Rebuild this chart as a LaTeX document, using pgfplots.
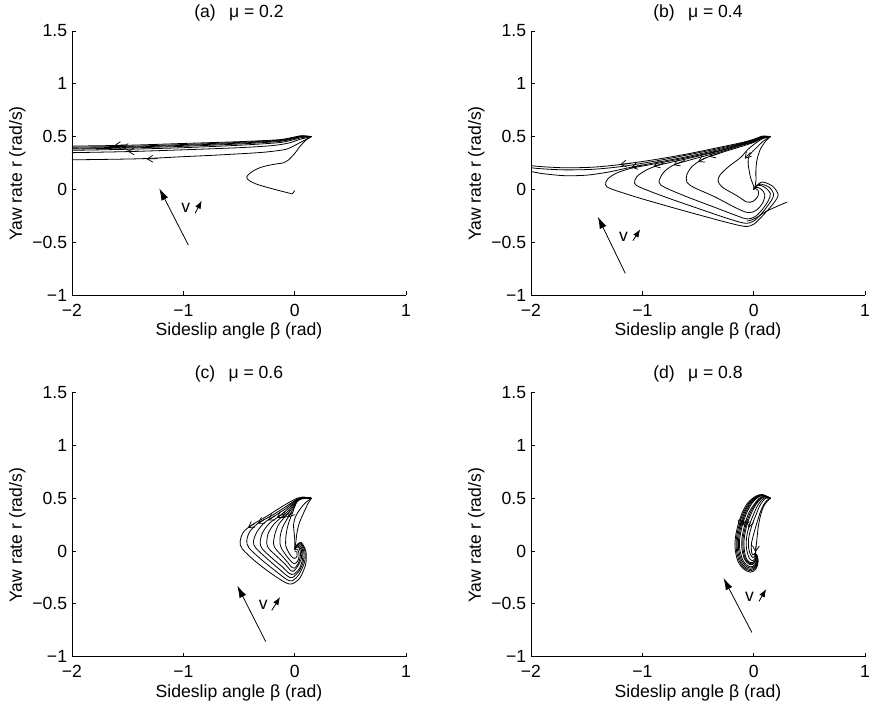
\documentclass[border=0pt]{standalone}
\usepackage{fontspec}
\setmainfont{Liberation Sans}
\usepackage{pgfplots}
\pgfplotsset{compat=1.18}
\usetikzlibrary{arrows.meta}
\pgfplotsset{
  every axis title shift=0pt,
  panel/.style={
    scale only axis, width=250.5pt, height=198pt,
    xmin=-2, xmax=1, ymin=-1, ymax=1.5,
    axis lines=left, axis line style={-, line width=0.6pt, black},
    tick align=inside, major tick length=2.7pt,
    tick style={line width=0.6pt, black},
    xtick={-2,-1,0,1}, xticklabels={−2,−1,0,1},
    ytick={-1,-0.5,0,0.5,1,1.5}, yticklabels={−1,−0.5,0,0.5,1,1.5},
    font=\fontsize{13.2}{15}\selectfont,
    xticklabel style={anchor=base, yshift=-15.8pt},
    yticklabel style={anchor=east, inner xsep=3.5pt},
    xlabel={Sideslip angle β (rad)},
    ylabel={Yaw rate r (rad/s)},
    xlabel style={at={(axis description cs:0.5,0)}, anchor=base, yshift=-30.5pt},
    ylabel style={at={(axis description cs:-0.164,0.46)}, anchor=center},
    title style={at={(axis description cs:0.5,1)}, anchor=base, yshift=10.3pt},
  },
  traj/.style={black, line width=0.6pt, smooth, tension=0.5, no markers},
  bigarrow/.style={black, line width=0.6pt, -{Latex[length=9pt,width=5.5pt]}, no markers},
  smallarrow/.style={black, line width=0.6pt, -{Latex[length=6pt,width=4.5pt]}, no markers},
  harrow/.style={black, line width=0.55pt, -{Straight Barb[length=4.2pt,width=5.2pt]}, no markers},
}
\begin{document}
\begin{tikzpicture}
% ---------------- (a) ----------------
\begin{axis}[panel, at={(54pt,309.75pt)}, anchor=south west, title={(a)\hspace{0.75em}μ = 0.2}]
\addplot[traj] coordinates {(0.15,0.5) (0.06,0.508) (-0.03,0.49) (-0.15,0.47) (-0.5,0.452) (-1,0.435) (-1.5,0.418) (-2,0.41)};
\addplot[traj] coordinates {(0.15,0.5) (0.06,0.505) (-0.03,0.485) (-0.15,0.465) (-0.5,0.445) (-1,0.425) (-1.5,0.408) (-2,0.40)};
\addplot[traj] coordinates {(0.15,0.5) (0.06,0.502) (-0.03,0.48) (-0.15,0.46) (-0.5,0.438) (-1,0.417) (-1.5,0.40) (-2,0.39)};
\addplot[traj] coordinates {(0.15,0.5) (0.06,0.498) (-0.03,0.475) (-0.15,0.453) (-0.5,0.43) (-1,0.408) (-1.5,0.392) (-2,0.382)};
\addplot[traj] coordinates {(0.15,0.5) (0.06,0.49) (-0.03,0.465) (-0.15,0.442) (-0.5,0.418) (-1,0.395) (-1.5,0.38) (-2,0.37)};
\addplot[traj] coordinates {(0.15,0.5) (0.05,0.475) (-0.05,0.44) (-0.2,0.415) (-0.5,0.395) (-1,0.375) (-1.5,0.358) (-2,0.348)};
\addplot[traj] coordinates {(0.15,0.5) (0.06,0.45) (-0.03,0.4) (-0.1,0.375) (-0.3,0.35) (-0.7,0.325) (-1.0,0.31) (-1.4,0.29) (-2,0.28)};
\addplot[traj] coordinates {(0.15,0.5) (0.1,0.465) (0.05,0.41) (0.0,0.34) (-0.06,0.275) (-0.1,0.252) (-0.2,0.235) (-0.3,0.21) (-0.38,0.17) (-0.43,0.12) (-0.41,0.085) (-0.33,0.045) (-0.18,0.0) (-0.05,-0.035) (-0.02,-0.04) (0.0,-0.01)};
\addplot[harrow] coordinates {(-1.52,0.422) (-1.62,0.416)};
\addplot[harrow] coordinates {(-1.45,0.404) (-1.55,0.398)};
\addplot[harrow] coordinates {(-1.40,0.363) (-1.50,0.359)};
\addplot[harrow] coordinates {(-1.23,0.292) (-1.33,0.288)};
\addplot[bigarrow] coordinates {(-0.955,-0.527) (-1.216,0.01)};
\addplot[smallarrow] coordinates {(-0.894,-0.226) (-0.835,-0.107)};
\node[anchor=center, inner sep=0pt] at (axis cs:-0.978,-0.17) {v};
\end{axis}
% ---------------- (b) ----------------
\begin{axis}[panel, at={(398.25pt,309.75pt)}, anchor=south west, title={(b)\hspace{0.75em}μ = 0.4}]
\addplot[traj] coordinates {(0.15,0.50) (0.08,0.505) (0.0,0.475) (-0.1,0.445) (-0.3,0.40) (-0.6,0.335) (-0.9,0.28) (-1.2,0.235) (-1.45,0.21) (-1.7,0.205) (-1.9,0.215) (-2,0.225)};
\addplot[traj] coordinates {(0.15,0.50) (0.08,0.50) (0.0,0.47) (-0.1,0.44) (-0.3,0.39) (-0.6,0.325) (-0.9,0.265) (-1.2,0.215) (-1.45,0.19) (-1.7,0.185) (-1.9,0.195) (-2,0.205)};
\addplot[traj] coordinates {(0.15,0.50) (0.08,0.497) (0.0,0.465) (-0.1,0.435) (-0.3,0.38) (-0.6,0.31) (-0.9,0.25) (-1.1,0.21) (-1.3,0.165) (-1.5,0.135) (-1.7,0.13) (-1.9,0.15) (-2,0.17)};
\addplot[traj] coordinates {(0.15,0.50) (0.08,0.495) (0.0,0.46) (-0.1,0.43) (-0.3,0.37) (-0.6,0.30) (-0.9,0.24) (-1.1,0.20) (-1.23,0.155) (-1.31,0.10) (-1.33,0.045) (-1.28,0.005) (-1.0,-0.09) (-0.6,-0.21) (-0.25,-0.31) (-0.08,-0.35) (0.0,-0.33) (0.08,-0.25) (0.18,-0.13) (0.22,-0.05) (0.17,0.03) (0.08,0.07) (0.02,0.03) (0.0,0.0)};
\addplot[traj] coordinates {(0.15,0.50) (0.08,0.492) (0.0,0.455) (-0.1,0.425) (-0.3,0.365) (-0.6,0.29) (-0.85,0.23) (-0.97,0.18) (-1.05,0.12) (-1.07,0.06) (-1.02,0.02) (-0.8,-0.07) (-0.5,-0.18) (-0.25,-0.27) (-0.08,-0.32) (0.0,-0.30) (0.07,-0.23) (0.15,-0.12) (0.18,-0.05) (0.14,0.02) (0.06,0.05) (0.01,0.02) (0.0,0.0)};
\addplot[traj] coordinates {(0.15,0.50) (0.08,0.49) (0.0,0.45) (-0.1,0.42) (-0.3,0.355) (-0.55,0.285) (-0.72,0.23) (-0.81,0.16) (-0.85,0.07) (-0.80,0.02) (-0.6,-0.07) (-0.35,-0.17) (-0.15,-0.25) (-0.06,-0.28) (0.01,-0.26) (0.07,-0.2) (0.13,-0.11) (0.15,-0.04) (0.1,0.02) (0.04,0.04) (0.0,0.0)};
\addplot[traj] coordinates {(0.15,0.50) (0.08,0.487) (0.0,0.445) (-0.1,0.41) (-0.3,0.345) (-0.45,0.29) (-0.55,0.22) (-0.6,0.14) (-0.6,0.07) (-0.54,0.02) (-0.35,-0.07) (-0.15,-0.18) (-0.05,-0.22) (0.02,-0.2) (0.08,-0.13) (0.1,-0.05) (0.07,0.0) (0.03,0.02) (0.0,0.0)};
\addplot[traj] coordinates {(0.15,0.50) (0.08,0.48) (0.02,0.44) (-0.05,0.38) (-0.12,0.30) (-0.22,0.22) (-0.3,0.14) (-0.32,0.08) (-0.28,0.02) (-0.15,-0.06) (-0.06,-0.12) (0.0,-0.11) (0.04,-0.06) (0.04,-0.01) (0.01,0.01) (0.0,0.0)};
\addplot[traj] coordinates {(0.15,0.50) (0.11,0.46) (0.06,0.38) (0.03,0.28) (0.02,0.18) (0.02,0.08) (0.01,0.02) (0.0,0.0)};
\addplot[traj] coordinates {(0.15,0.50) (0.09,0.46) (0.02,0.39) (-0.04,0.32) (-0.05,0.25) (-0.03,0.12) (0.0,0.03) (0.0,0.0)};
\addplot[traj] coordinates {(0.30,-0.12) (0.2,-0.165) (0.1,-0.215) (0.03,-0.265) (-0.02,-0.29) (-0.06,-0.3)};
\addplot[harrow] coordinates {(-1.1,0.25) (-1.2,0.235)};
\addplot[harrow] coordinates {(-1.0,0.232) (-1.1,0.21)};
\addplot[harrow] coordinates {(-0.8,0.25) (-0.9,0.218)};
\addplot[harrow] coordinates {(-0.62,0.275) (-0.72,0.23)};
\addplot[harrow] coordinates {(-0.42,0.305) (-0.5,0.26)};
\addplot[harrow] coordinates {(-0.3,0.345) (-0.4,0.31)};
\addplot[harrow] coordinates {(-0.03,0.35) (-0.08,0.29)};
\addplot[bigarrow] coordinates {(-1.153,-0.795) (-1.40,-0.258)};
\addplot[smallarrow] coordinates {(-1.085,-0.486) (-1.019,-0.378)};
\node[anchor=center, inner sep=0pt] at (axis cs:-1.169,-0.448) {v};
\end{axis}
% ---------------- (c) ----------------
\begin{axis}[panel, at={(54pt,38.5pt)}, anchor=south west, title={(c)\hspace{0.75em}μ = 0.6}]
\addplot[traj] coordinates {(0.15,0.5) (0.07,0.51) (0.02,0.5) (-0.1,0.43) (-0.25,0.33) (-0.38,0.25) (-0.46,0.18) (-0.49,0.09) (-0.47,0.02) (-0.35,-0.1) (-0.2,-0.22) (-0.08,-0.3) (-0.02,-0.31) (0.05,-0.25) (0.1,-0.12) (0.1,0.0) (0.06,0.08) (0.02,0.06) (0.0,0.02)};
\addplot[traj] coordinates {(0.15,0.5) (0.07,0.51) (0.02,0.49) (-0.08,0.42) (-0.2,0.34) (-0.32,0.27) (-0.4,0.19) (-0.43,0.1) (-0.41,0.03) (-0.3,-0.08) (-0.17,-0.19) (-0.07,-0.27) (-0.02,-0.28) (0.04,-0.22) (0.09,-0.1) (0.09,0.01) (0.05,0.08) (0.02,0.05) (0.0,0.02)};
\addplot[traj] coordinates {(0.15,0.5) (0.07,0.51) (0.02,0.49) (-0.07,0.41) (-0.17,0.34) (-0.27,0.27) (-0.34,0.18) (-0.37,0.09) (-0.35,0.03) (-0.25,-0.07) (-0.14,-0.17) (-0.06,-0.24) (-0.02,-0.25) (0.04,-0.19) (0.08,-0.09) (0.08,0.01) (0.05,0.07) (0.02,0.05) (0.0,0.02)};
\addplot[traj] coordinates {(0.15,0.5) (0.07,0.505) (0.02,0.485) (-0.06,0.40) (-0.14,0.33) (-0.23,0.26) (-0.29,0.17) (-0.31,0.08) (-0.29,0.02) (-0.2,-0.07) (-0.11,-0.15) (-0.05,-0.21) (-0.01,-0.22) (0.04,-0.17) (0.07,-0.08) (0.07,0.01) (0.04,0.06) (0.01,0.04) (0.0,0.02)};
\addplot[traj] coordinates {(0.15,0.5) (0.07,0.505) (0.02,0.48) (-0.05,0.39) (-0.12,0.32) (-0.19,0.25) (-0.24,0.16) (-0.25,0.07) (-0.23,0.02) (-0.15,-0.06) (-0.08,-0.13) (-0.04,-0.18) (-0.01,-0.19) (0.03,-0.14) (0.06,-0.07) (0.06,0.01) (0.03,0.05) (0.01,0.03) (0.0,0.01)};
\addplot[traj] coordinates {(0.15,0.5) (0.07,0.5) (0.02,0.475) (-0.04,0.38) (-0.1,0.31) (-0.15,0.24) (-0.18,0.15) (-0.19,0.07) (-0.17,0.02) (-0.11,-0.05) (-0.06,-0.11) (-0.03,-0.15) (0.0,-0.16) (0.03,-0.12) (0.05,-0.06) (0.05,0.0) (0.03,0.04) (0.0,0.02)};
\addplot[traj] coordinates {(0.15,0.5) (0.07,0.5) (0.02,0.47) (-0.03,0.37) (-0.07,0.3) (-0.11,0.22) (-0.13,0.14) (-0.13,0.06) (-0.11,0.01) (-0.07,-0.05) (-0.03,-0.1) (0.0,-0.12) (0.03,-0.09) (0.04,-0.04) (0.03,0.01) (0.01,0.02) (0.0,0.01)};
\addplot[traj] coordinates {(0.15,0.5) (0.07,0.495) (0.02,0.465) (-0.02,0.36) (-0.05,0.28) (-0.07,0.2) (-0.08,0.12) (-0.08,0.05) (-0.06,0.0) (-0.03,-0.05) (0.0,-0.07) (0.02,-0.05) (0.02,-0.01) (0.0,0.0)};
\addplot[traj] coordinates {(0.15,0.5) (0.12,0.45) (0.08,0.36) (0.04,0.26) (0.02,0.17) (0.01,0.08) (0.0,0.02)};
\addplot[traj] coordinates {(0.15,0.5) (0.1,0.46) (0.05,0.4) (0.01,0.33) (-0.01,0.25) (0.0,0.12) (0.0,0.03)};
\addplot[harrow] coordinates {(-0.36,0.262) (-0.42,0.22)};
\addplot[harrow] coordinates {(-0.27,0.30) (-0.33,0.26)};
\addplot[harrow] coordinates {(-0.18,0.33) (-0.24,0.29)};
\addplot[harrow] coordinates {(-0.1,0.355) (-0.16,0.315)};
\addplot[harrow] coordinates {(-0.06,0.36) (-0.11,0.315)};
\addplot[harrow] coordinates {(-0.02,0.37) (-0.06,0.32)};
\addplot[bigarrow] coordinates {(-0.26,-0.857) (-0.515,-0.328)};
\addplot[smallarrow] coordinates {(-0.206,-0.562) (-0.131,-0.435)};
\node[anchor=center, inner sep=0pt] at (axis cs:-0.281,-0.513) {v};
\end{axis}
% ---------------- (d) ----------------
\begin{axis}[panel, at={(398.25pt,38.5pt)}, anchor=south west, title={(d)\hspace{0.75em}μ = 0.8}]
\addplot[traj] coordinates {(0.15,0.5) (0.08,0.535) (0.02,0.52) (-0.05,0.46) (-0.1,0.37) (-0.14,0.25) (-0.165,0.12) (-0.165,0.01) (-0.14,-0.1) (-0.09,-0.17) (-0.03,-0.2) (0.02,-0.17) (0.04,-0.1) (0.03,-0.04) (0.01,-0.02)};
\addplot[traj] coordinates {(0.15,0.5) (0.08,0.532) (0.025,0.518) (-0.04,0.46) (-0.09,0.37) (-0.13,0.25) (-0.155,0.12) (-0.155,0.01) (-0.13,-0.095) (-0.085,-0.16) (-0.03,-0.187) (0.018,-0.16) (0.038,-0.095) (0.028,-0.04) (0.01,-0.02)};
\addplot[traj] coordinates {(0.15,0.5) (0.08,0.53) (0.03,0.515) (-0.03,0.46) (-0.08,0.37) (-0.12,0.25) (-0.145,0.12) (-0.145,0.01) (-0.12,-0.09) (-0.08,-0.15) (-0.03,-0.175) (0.015,-0.15) (0.035,-0.09) (0.025,-0.04) (0.01,-0.02)};
\addplot[traj] coordinates {(0.15,0.5) (0.085,0.527) (0.035,0.512) (-0.02,0.46) (-0.07,0.37) (-0.11,0.25) (-0.135,0.12) (-0.135,0.015) (-0.11,-0.085) (-0.072,-0.14) (-0.028,-0.162) (0.012,-0.14) (0.032,-0.085) (0.022,-0.04) (0.01,-0.02)};
\addplot[traj] coordinates {(0.15,0.5) (0.09,0.525) (0.04,0.51) (-0.01,0.46) (-0.06,0.37) (-0.1,0.25) (-0.125,0.12) (-0.125,0.02) (-0.1,-0.08) (-0.065,-0.13) (-0.025,-0.15) (0.01,-0.13) (0.03,-0.08) (0.02,-0.04) (0.01,-0.02)};
\addplot[traj] coordinates {(0.15,0.5) (0.1,0.52) (0.05,0.5) (0.01,0.45) (-0.04,0.37) (-0.08,0.25) (-0.105,0.12) (-0.105,0.02) (-0.085,-0.07) (-0.055,-0.115) (-0.02,-0.13) (0.01,-0.11) (0.025,-0.07) (0.02,-0.04) (0.01,-0.02)};
\addplot[traj] coordinates {(0.15,0.5) (0.1,0.517) (0.055,0.495) (0.015,0.445) (-0.03,0.365) (-0.07,0.25) (-0.095,0.12) (-0.095,0.02) (-0.078,-0.065) (-0.05,-0.108) (-0.018,-0.12) (0.01,-0.1) (0.022,-0.065) (0.018,-0.038) (0.01,-0.02)};
\addplot[traj] coordinates {(0.15,0.5) (0.1,0.515) (0.06,0.49) (0.02,0.44) (-0.02,0.36) (-0.06,0.25) (-0.085,0.12) (-0.085,0.02) (-0.07,-0.06) (-0.045,-0.1) (-0.015,-0.11) (0.01,-0.09) (0.02,-0.06) (0.015,-0.035) (0.01,-0.02)};
\addplot[traj] coordinates {(0.15,0.5) (0.11,0.51) (0.07,0.48) (0.035,0.43) (0.0,0.35) (-0.04,0.24) (-0.065,0.12) (-0.065,0.03) (-0.05,-0.04) (-0.03,-0.08) (-0.005,-0.09) (0.012,-0.07) (0.015,-0.04) (0.01,-0.02)};
\addplot[traj] coordinates {(0.15,0.5) (0.11,0.5) (0.08,0.47) (0.05,0.42) (0.02,0.34) (-0.02,0.23) (-0.045,0.12) (-0.045,0.03) (-0.03,-0.03) (-0.01,-0.06) (0.008,-0.055) (0.012,-0.035) (0.01,-0.02)};
\addplot[traj] coordinates {(0.15,0.5) (0.12,0.48) (0.09,0.44) (0.06,0.37) (0.03,0.27) (0.0,0.16) (-0.02,0.07) (-0.02,0.0) (-0.01,-0.035) (0.005,-0.03) (0.01,-0.02)};
\addplot[traj] coordinates {(0.15,0.5) (0.12,0.47) (0.088,0.42) (0.06,0.33) (0.04,0.22) (0.03,0.12) (0.02,0.02) (0.015,-0.05)};
\addplot[harrow] coordinates {(-0.11,0.29) (-0.125,0.23)};
\addplot[harrow] coordinates {(-0.09,0.30) (-0.105,0.24)};
\addplot[harrow] coordinates {(-0.07,0.29) (-0.085,0.23)};
\addplot[harrow] coordinates {(-0.03,0.28) (-0.045,0.22)};
\addplot[harrow] coordinates {(0.02,0.05) (0.017,-0.01)};
\addplot[bigarrow] coordinates {(-0.016,-0.771) (-0.271,-0.255)};
\addplot[smallarrow] coordinates {(0.047,-0.477) (0.112,-0.36)};
\node[anchor=center, inner sep=0pt] at (axis cs:-0.038,-0.43) {v};
\end{axis}
\pgfresetboundingbox
\path[use as bounding box] (0,0) rectangle (654pt,531pt);
\end{tikzpicture}
\end{document}
